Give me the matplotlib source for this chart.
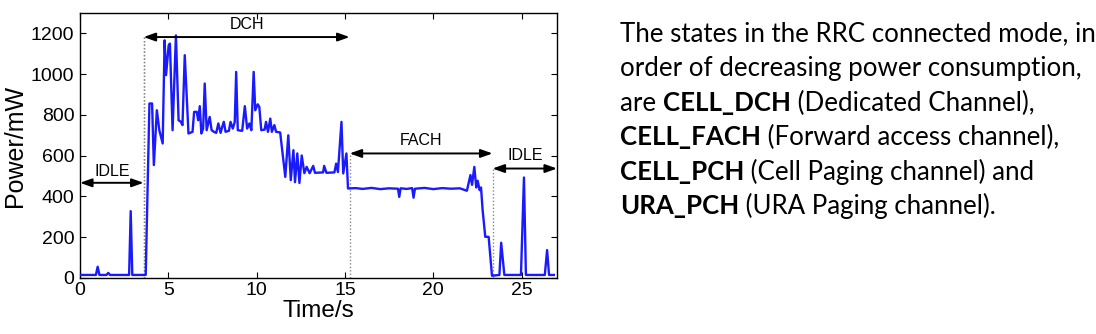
import matplotlib
matplotlib.use("Agg")
import matplotlib.pyplot as plt

# ---- data ----
time_s = [0, 0.9, 1.0, 1.1, 1.5, 1.6, 1.7, 2.78, 2.87, 2.96, 3.72,
          3.93, 4.08, 4.18, 4.35, 4.49, 4.68, 4.79, 4.87, 5.02, 5.09, 5.24, 5.43, 5.58, 5.71, 5.8, 5.93,
          6.14, 6.37, 6.46, 6.61, 6.69, 6.78, 6.87, 6.97, 7.06, 7.17, 7.34, 7.45, 7.58, 7.71, 7.83, 7.96,
          8.05, 8.14, 8.24, 8.43, 8.52, 8.65, 8.76, 8.84, 8.93, 9.18, 9.33, 9.46, 9.59, 9.7, 9.83, 9.92,
          10.06, 10.15, 10.26, 10.45, 10.53, 10.64, 10.77, 10.86, 11.0, 11.1, 11.33,
          11.62, 11.79, 11.93, 12.08, 12.17, 12.3, 12.42, 12.55, 12.7, 12.83, 13.0, 13.2, 13.3, 13.76,
          13.82, 13.95, 14.4, 14.5, 14.6, 14.8, 14.9, 15.08, 15.17,
          15.6, 16.0, 16.5, 17.0, 17.5, 18.0, 18.07, 18.15, 18.5, 18.8, 18.88, 18.96, 19.5, 20.0, 20.5,
          21.0, 21.5, 21.9, 22.1, 22.19, 22.32, 22.43, 22.51, 22.62, 22.7, 22.79, 22.94, 23.13, 23.32,
          23.74, 23.84, 24.02, 24.96, 25.13, 25.24, 26.31, 26.44, 26.55, 26.82]
power_mw = [15, 15, 55, 15, 15, 25, 15, 15, 328, 15, 15,
            856, 856, 554, 823, 725, 660, 1166, 995, 1142, 1150, 725, 1190, 774, 766, 750, 1093,
            709, 717, 815, 815, 774, 843, 709, 733, 954, 725, 790, 725, 717, 712, 758, 712,
            741, 766, 717, 722, 766, 733, 766, 1011, 725, 722, 843, 733, 758, 725, 1011, 823,
            852, 839, 725, 728, 766, 717, 782, 717, 750, 717, 714,
            496, 700, 480, 627, 470, 611, 466, 601, 514, 545, 514, 550, 516, 518,
            550, 516, 518, 561, 520, 766, 513, 611, 439,
            441, 437, 442, 436, 440, 438, 398, 440, 437, 441, 394, 438, 442, 436, 441,
            438, 440, 428, 505, 457, 545, 444, 477, 431, 444, 333, 202, 202, 11,
            15, 173, 15, 15, 493, 15, 15, 137, 15, 15]

state_names = ["IDLE", "DCH", "FACH", "IDLE"]
state_bounds = [(0, 3.6), (3.6, 15.26), (15.26, 23.35), (23.35, 27)]
arrow_levels = [467, 1182, 611, 537]
label_levels = [520, 1243, 676, 603]

x_ticks = [0, 5, 10, 15, 20, 25]
y_ticks = [0, 200, 400, 600, 800, 1000, 1200]

text_lines = [
    [("The states in the RRC connected mode, in", "normal")],
    [("order of decreasing power consumption,", "normal")],
    [("are ", "normal"), ("CELL_DCH", "bold"), (" (Dedicated Channel),", "normal")],
    [("CELL_FACH", "bold"), (" (Forward access channel),", "normal")],
    [("CELL_PCH", "bold"), (" (Cell Paging channel) and", "normal")],
    [("URA_PCH", "bold"), (" (URA Paging channel).", "normal")],
]

# ---- figure ----
W, H, DPI = 1096, 334, 100
fig = plt.figure(figsize=(W / DPI, H / DPI), dpi=DPI)
ax = fig.add_axes([80 / W, 1 - 278 / H, (557 - 80) / W, (278 - 13) / H])

sans = ["Liberation Sans", "DejaVu Sans"]
ax.plot(time_s, power_mw, color="#1a1aff", lw=1.7, zorder=3)
ax.set_xlim(0, 27)
ax.set_ylim(0, 1300)
ax.set_xticks(x_ticks)
ax.set_yticks(y_ticks)
ax.tick_params(direction="in", top=True, right=True, length=4, width=0.8,
               labelsize=14, pad=4)
ax.tick_params(axis="x", pad=3)
for lab in ax.get_xticklabels() + ax.get_yticklabels():
    lab.set_family(sans)
for s in ax.spines.values():
    s.set_linewidth(1.0)
ax.set_xlabel("Time/s", fontsize=17.5, family=sans, labelpad=0.5)
ax.set_ylabel("Power/mW", fontsize=18, family=sans, labelpad=3)

# dotted separators
for (a, b), lvl in zip(state_bounds[1:], arrow_levels[1:]):
    ax.plot([a, a], [0, lvl], color="#888888", lw=1.0, ls=(0, (1, 1.5)), zorder=2)
ax.plot([3.6, 3.6], [0, 1182], color="#888888", lw=1.0, ls=(0, (1, 1.5)), zorder=2)

for name, (a, b), lvl, tl in zip(state_names, state_bounds, arrow_levels, label_levels):
    ax.annotate("", xy=(a, lvl), xytext=(b, lvl),
                arrowprops=dict(arrowstyle="<|-|>,head_length=0.7,head_width=0.25",
                                color="black", lw=1.4, shrinkA=0, shrinkB=0))
    ax.text((a + b) / 2, tl, name, ha="center", va="center", fontsize=11.5, family=sans)

# right-hand text block with mixed weights
fig.canvas.draw()
renderer = fig.canvas.get_renderer()
font = ["Lato", "DejaVu Sans"]
fsize = 20
probe = fig.text(0, 0, text_lines[0][0][0], fontsize=fsize, family=font)
wpx = probe.get_window_extent(renderer).width
probe.remove()
fsize = fsize * 477 / wpx

x0 = 620
baselines = [41.7, 76.2, 110.7, 145.2, 179.7, 214.2]
for segs, yb in zip(text_lines, baselines):
    x = x0
    for txt, weight in segs:
        t = fig.text(x / W, 1 - yb / H, txt, fontsize=fsize, family=font,
                     fontweight=weight, va="baseline", ha="left")
        x += t.get_window_extent(renderer).width

fig.savefig("out.png", dpi=DPI)
